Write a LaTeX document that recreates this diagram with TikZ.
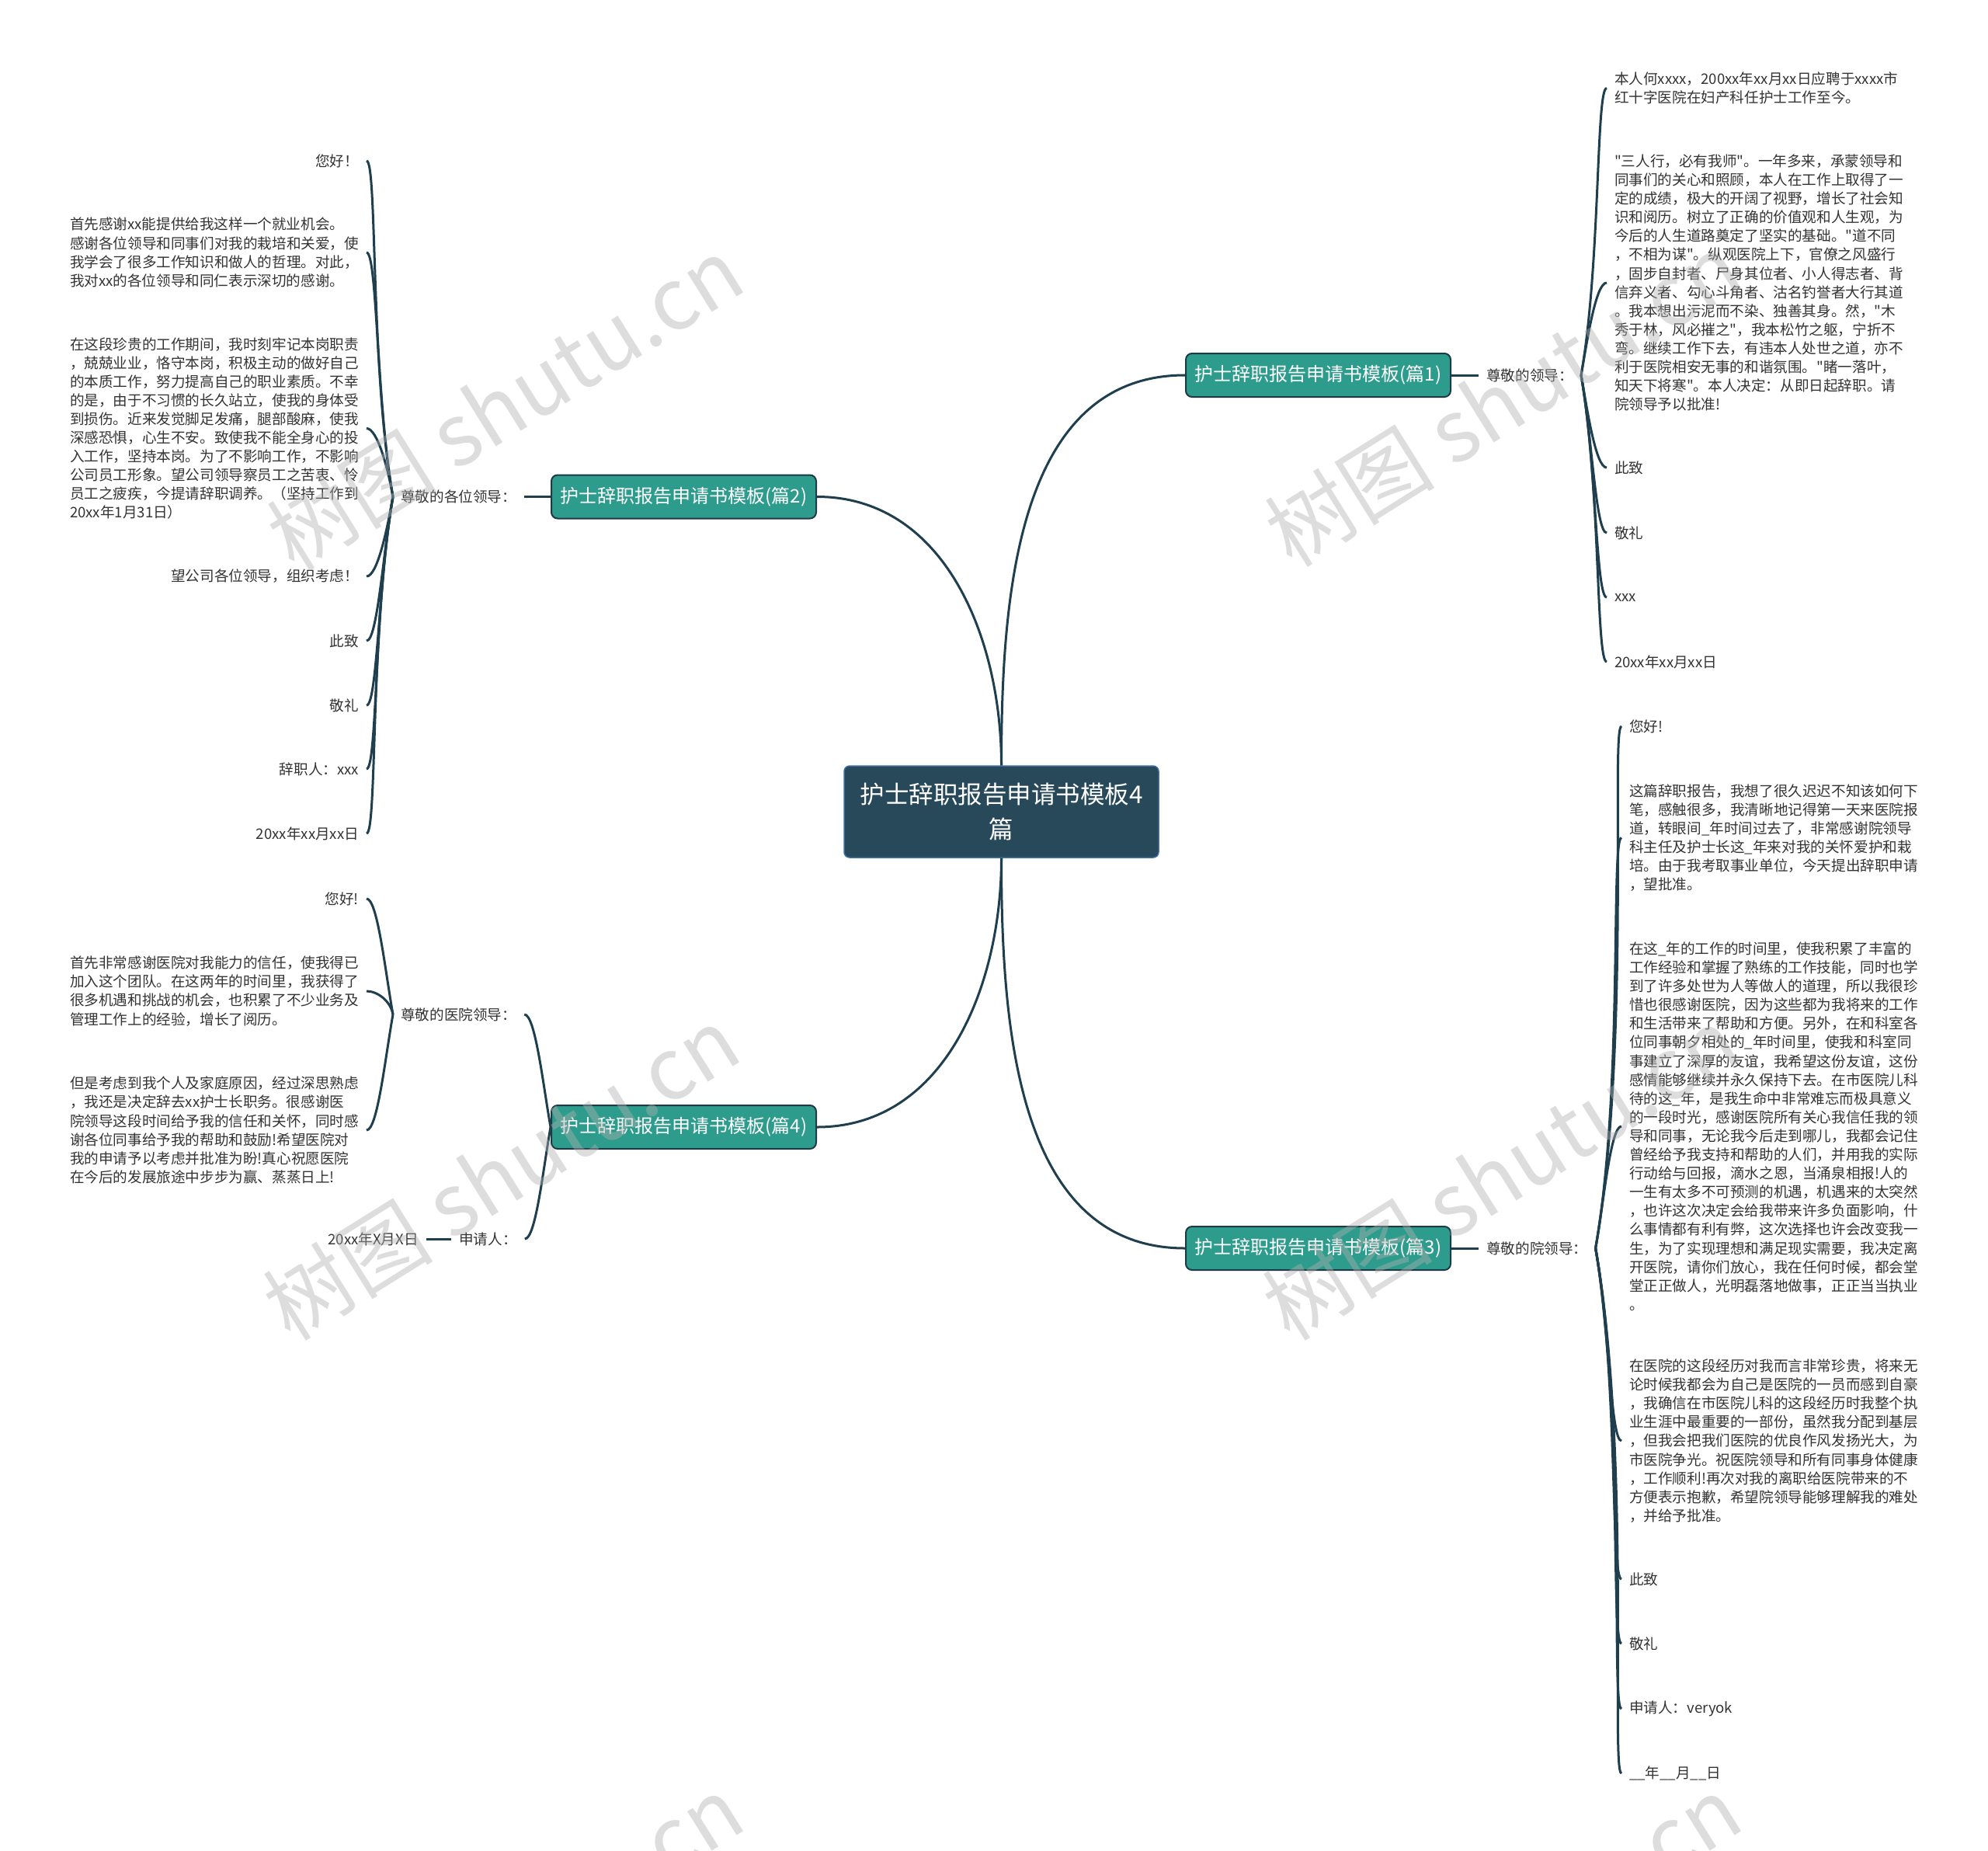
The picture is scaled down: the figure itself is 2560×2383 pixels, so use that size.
\documentclass[tikz,border=0pt]{standalone}
\usepackage{fontspec}
\setmainfont{Noto Sans CJK SC}[Ligatures=TeXOff]
\definecolor{linecol}{HTML}{1F3F4E}
\definecolor{rootfill}{HTML}{28495A}
\definecolor{rootdraw}{HTML}{3D6E9E}
\definecolor{brfill}{HTML}{2E9C8C}
\definecolor{brdraw}{HTML}{1E3A46}
\definecolor{leafcol}{HTML}{333333}
\definecolor{wmcol}{HTML}{B0B0B0}
\begin{document}
\begin{tikzpicture}[x=1pt,y=-1pt,
 root/.style={draw=rootdraw, line width=1.5pt, fill=rootfill, rounded corners=7pt, text=white, font=\fontsize{31.5}{45}\selectfont, align=center, minimum width=405pt, minimum height=118pt, inner sep=0pt},
 branch/.style={draw=brdraw, line width=2pt, fill=brfill, rounded corners=8pt, text=white, font=\fontsize{24}{30}\selectfont, minimum width=341pt, minimum height=56pt, inner sep=0pt},
 leaf/.style={font=\fontsize{18.6}{24.1}\selectfont, align=left, text=leafcol, inner sep=0pt, outer xsep=10pt},
 lab/.style={font=\fontsize{18.6}{24.1}\selectfont, text=leafcol, inner xsep=10pt, inner ysep=0pt},
 conn/.style={draw=linecol, line width=3pt},
 upR/.style={conn, out=80, in=180, in distance=14pt},
 dnR/.style={conn, out=280, in=180, in distance=14pt},
 upL/.style={conn, out=100, in=0, in distance=14pt},
 dnL/.style={conn, out=260, in=0, in distance=14pt},
 wm/.style={text=wmcol, opacity=0.42, font=\fontsize{110}{110}\selectfont, rotate=32},
]
\fill[white] (0,0) rectangle (2560,2383);
\useasboundingbox (0,0) rectangle (2560,2383);

% root and branches
\node[root] (c) at (1289.5,1045) {护士辞职报告申请书模板4\\篇};
\node[branch] (b1) at (1697.5,483) {护士辞职报告申请书模板(篇1)};
\node[branch] (b2) at (880.5,639.5) {护士辞职报告申请书模板(篇2)};
\node[branch] (b3) at (1697.5,1607) {护士辞职报告申请书模板(篇3)};
\node[branch] (b4) at (880.5,1451) {护士辞职报告申请书模板(篇4)};

\draw[conn, out=90, in=180] (c.north) to (b1.west);
\draw[conn, out=90, in=0] (c.north) to (b2.east);
\draw[conn, out=270, in=180] (c.south) to (b3.west);
\draw[conn, out=270, in=0] (c.south) to (b4.east);

% labels
\node[lab, anchor=west] (l1) at (1904,483) {尊敬的领导：};
\node[lab, anchor=west] (l2) at (506,639.5) {尊敬的各位领导：};
\node[lab, anchor=west] (l3) at (1904,1607) {尊敬的院领导：};
\node[lab, anchor=west] (l4) at (506,1306) {尊敬的医院领导：};
\node[lab, anchor=west] (l5) at (581,1595) {申请人：};
\node[lab, anchor=east] (l6) at (549,1595) {20xx年X月X日};

\draw[conn] (b1.east) -- (l1.west);
\draw[conn] (b2.west) -- (l2.east);
\draw[conn] (b3.east) -- (l3.west);
\draw[upL] (b4.west) to (l4.east);
\draw[dnL] (b4.west) to (l5.east);
\draw[conn] (l6.east) -- (l5.west);

% ---- 篇1 leaves
\node[leaf, anchor=west] (n11) at (2069,113.5) {本人何xxxx，200xx年xx月xx日应聘于xxxx市\\红十字医院在妇产科任护士工作至今。};
\node[leaf, anchor=west] (n12) at (2069,364) {"三人行，必有我师"。一年多来，承蒙领导和\\同事们的关心和照顾，本人在工作上取得了一\\定的成绩，极大的开阔了视野，增长了社会知\\识和阅历。树立了正确的价值观和人生观，为\\今后的人生道路奠定了坚实的基础。"道不同\\，不相为谋"。纵观医院上下，官僚之风盛行\\，固步自封者、尸身其位者、小人得志者、背\\信弃义者、勾心斗角者、沽名钓誉者大行其道\\。我本想出污泥而不染、独善其身。然，"木\\秀于林，风必摧之"，我本松竹之躯，宁折不\\弯。继续工作下去，有违本人处世之道，亦不\\利于医院相安无事的和谐氛围。"睹一落叶，\\知天下将寒"。本人决定：从即日起辞职。请\\院领导予以批准!};
\node[leaf, anchor=west] (n13) at (2069,602) {此致};
\node[leaf, anchor=west] (n14) at (2069,686) {敬礼};
\node[leaf, anchor=west] (n15) at (2069,769) {xxx};
\node[leaf, anchor=west] (n16) at (2069,852) {20xx年xx月xx日};
\draw[upR] (l1.east) to (n11.west);
\draw[upR] (l1.east) to (n12.west);
\draw[dnR] (l1.east) to (n13.west);
\draw[dnR] (l1.east) to (n14.west);
\draw[dnR] (l1.east) to (n15.west);
\draw[dnR] (l1.east) to (n16.west);

% ---- 篇2 leaves
\node[leaf, anchor=east] (n21) at (472,207) {您好！};
\node[leaf, anchor=east] (n22) at (472,325) {首先感谢xx能提供给我这样一个就业机会。\\感谢各位领导和同事们对我的栽培和关爱，使\\我学会了很多工作知识和做人的哲理。对此，\\我对xx的各位领导和同仁表示深切的感谢。};
\node[leaf, anchor=east] (n23) at (472,551.5) {在这段珍贵的工作期间，我时刻牢记本岗职责\\，兢兢业业，恪守本岗，积极主动的做好自己\\的本质工作，努力提高自己的职业素质。不幸\\的是，由于不习惯的长久站立，使我的身体受\\到损伤。近来发觉脚足发痛，腿部酸麻，使我\\深感恐惧，心生不安。致使我不能全身心的投\\入工作，坚持本岗。为了不影响工作，不影响\\公司员工形象。望公司领导察员工之苦衷、怜\\员工之疲疾，今提请辞职调养。（坚持工作到\\20xx年1月31日）};
\node[leaf, anchor=east] (n24) at (472,742) {望公司各位领导，组织考虑！};
\node[leaf, anchor=east] (n25) at (472,825) {此致};
\node[leaf, anchor=east] (n26) at (472,908) {敬礼};
\node[leaf, anchor=east] (n27) at (472,990) {辞职人：xxx};
\node[leaf, anchor=east] (n28) at (472,1073) {20xx年xx月xx日};
\draw[upL] (l2.west) to (n21.east);
\draw[upL] (l2.west) to (n22.east);
\draw[upL] (l2.west) to (n23.east);
\draw[dnL] (l2.west) to (n24.east);
\draw[dnL] (l2.west) to (n25.east);
\draw[dnL] (l2.west) to (n26.east);
\draw[dnL] (l2.west) to (n27.east);
\draw[dnL] (l2.west) to (n28.east);

% ---- 篇4 leaves
\node[leaf, anchor=east] (n41) at (472,1157) {您好!};
\node[leaf, anchor=east] (n42) at (472,1276) {首先非常感谢医院对我能力的信任，使我得已\\加入这个团队。在这两年的时间里，我获得了\\很多机遇和挑战的机会，也积累了不少业务及\\管理工作上的经验，增长了阅历。};
\node[leaf, anchor=east] (n43) at (472,1455) {但是考虑到我个人及家庭原因，经过深思熟虑\\，我还是决定辞去xx护士长职务。很感谢医\\院领导这段时间给予我的信任和关怀，同时感\\谢各位同事给予我的帮助和鼓励!希望医院对\\我的申请予以考虑并批准为盼!真心祝愿医院\\在今后的发展旅途中步步为赢、蒸蒸日上!};
\draw[upL] (l4.west) to (n41.east);
\draw[upL] (l4.west) to (n42.east);
\draw[dnL] (l4.west) to (n43.east);

% ---- 篇3 leaves
\node[leaf, anchor=west] (n31) at (2088,935) {您好!};
\node[leaf, anchor=west] (n32) at (2088,1078.5) {这篇辞职报告，我想了很久迟迟不知该如何下\\笔，感触很多，我清晰地记得第一天来医院报\\道，转眼间\_年时间过去了，非常感谢院领导\\科主任及护士长这\_年来对我的关怀爱护和栽\\培。由于我考取事业单位，今天提出辞职申请\\，望批准。};
\node[leaf, anchor=west] (n33) at (2088,1450) {在这\_年的工作的时间里，使我积累了丰富的\\工作经验和掌握了熟练的工作技能，同时也学\\到了许多处世为人等做人的道理，所以我很珍\\惜也很感谢医院，因为这些都为我将来的工作\\和生活带来了帮助和方便。另外，在和科室各\\位同事朝夕相处的\_年时间里，使我和科室同\\事建立了深厚的友谊，我希望这份友谊，这份\\感情能够继续并永久保持下去。在市医院儿科\\待的这\_年，是我生命中非常难忘而极具意义\\的一段时光，感谢医院所有关心我信任我的领\\导和同事，无论我今后走到哪儿，我都会记住\\曾经给予我支持和帮助的人们，并用我的实际\\行动给与回报，滴水之恩，当涌泉相报!人的\\一生有太多不可预测的机遇，机遇来的太突然\\，也许这次决定会给我带来许多负面影响，什\\么事情都有利有弊，这次选择也许会改变我一\\生，为了实现理想和满足现实需要，我决定离\\开医院，请你们放心，我在任何时候，都会堂\\堂正正做人，光明磊落地做事，正正当当执业\\。};
\node[leaf, anchor=west] (n34) at (2088,1855) {在医院的这段经历对我而言非常珍贵，将来无\\论时候我都会为自己是医院的一员而感到自豪\\，我确信在市医院儿科的这段经历时我整个执\\业生涯中最重要的一部份，虽然我分配到基层\\，但我会把我们医院的优良作风发扬光大，为\\市医院争光。祝医院领导和所有同事身体健康\\，工作顺利!再次对我的离职给医院带来的不\\方便表示抱歉，希望院领导能够理解我的难处\\，并给予批准。};
\node[leaf, anchor=west] (n35) at (2088,2033) {此致};
\node[leaf, anchor=west] (n36) at (2088,2116) {敬礼};
\node[leaf, anchor=west] (n37) at (2088,2200) {申请人：veryok};
\node[leaf, anchor=west] (n38) at (2088,2283) {\_\_年\_\_月\_\_日};
\draw[upR] (l3.east) to (n31.west);
\draw[upR] (l3.east) to (n32.west);
\draw[upR] (l3.east) to (n33.west);
\draw[dnR] (l3.east) to (n34.west);
\draw[dnR] (l3.east) to (n35.west);
\draw[dnR] (l3.east) to (n36.west);
\draw[dnR] (l3.east) to (n37.west);
\draw[dnR] (l3.east) to (n38.west);

% watermarks
\node[wm] (w1) at (650,519) {树图 shutu.cn};
\node[wm] (w2) at (1935,514) {树图 shutu.cn};
\node[wm] (w3) at (645,1510) {树图 shutu.cn};
\node[wm] (w4) at (1932,1510) {树图 shutu.cn};
\node[wm] (w5) at (650,2500) {树图 shutu.cn};
\node[wm] (w6) at (1935,2500) {树图 shutu.cn};
\end{tikzpicture}
\end{document}
